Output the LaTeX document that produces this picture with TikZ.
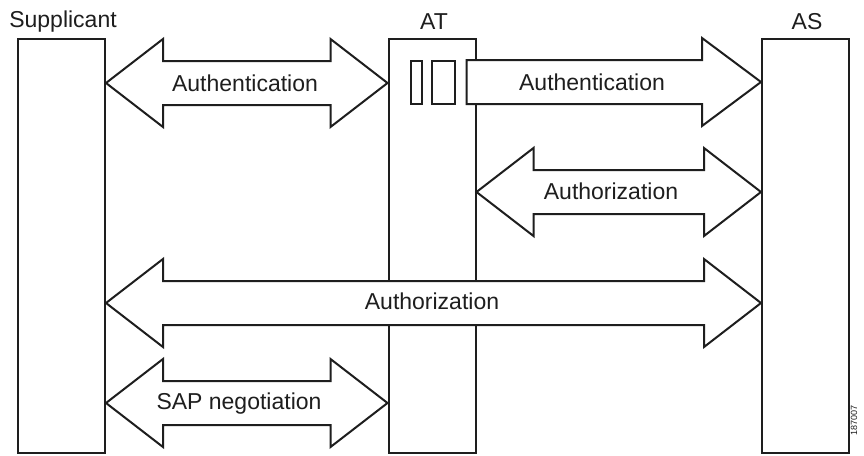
\documentclass[tikz,border=0pt]{standalone}
\usepackage{fontspec}
\setmainfont{Liberation Sans}
\usetikzlibrary{calc}
\definecolor{ink}{HTML}{1E1E1E}
\tikzset{
  ent/.style={draw=ink, line width=2pt, fill=white, inner sep=0pt, minimum width=87pt, minimum height=414pt},
  arr/.style={draw=ink, line width=2pt, fill=white, line join=miter},
  lbl/.style={inner sep=0pt, text=ink, font=\fontsize{23}{27}\selectfont},
  ttl/.style={inner sep=0pt, text=ink, font=\fontsize{23}{27}\selectfont}
}
\newcommand\dblarr[2]{%
  \draw[arr] (#1) -- ++(57,-44) -- ++(0,22) -- ($(#2)+(-57,-22)$) -- ++(0,-22) -- (#2)
    -- ++(-57,44) -- ++(0,-22) -- ($(#1)+(57,22)$) -- ++(0,22) -- cycle;}
\newcommand\sglarr[2]{%
  \draw[arr] ($(#1)+(0,-22)$) -- ($(#2)+(-59,-22)$) -- ++(0,-22) -- (#2)
    -- ++(-59,44) -- ++(0,-22) -- ($(#1)+(0,22)$) -- cycle;}
\begin{document}
\begin{tikzpicture}[x=1pt,y=-1pt]
\useasboundingbox[fill=white] (0,0) rectangle (864,455);
% entities
\node[ent] (sup) at (61.5,246) {};
\node[ent] (at)  at (432,246) {};
\node[ent] (as)  at (805.5,246) {};
\node[ttl] (tsup) at (63,22) {Supplicant};
\node[ttl] (tat)  at (434,22) {AT};
\node[ttl] (tas)  at (807,22) {AS};
% small buffers inside AT
\draw[arr] (411,61) rectangle (422,104);
\draw[arr] (432,61) rectangle (455,104);
% arrow end points
\coordinate (a1l) at (sup.east |- 0,83);
\coordinate (a1r) at (at.west |- 0,83);
\coordinate (a2l) at ($(at.east |- 0,82)+(-10,0)$);
\coordinate (a2r) at (as.west |- 0,82);
\coordinate (a3l) at (at.east |- 0,192);
\coordinate (a3r) at (as.west |- 0,192);
\coordinate (a4l) at (sup.east |- 0,303);
\coordinate (a4r) at (as.west |- 0,303);
\coordinate (a5l) at (sup.east |- 0,403);
\coordinate (a5r) at (at.west |- 0,403);
% arrows
\dblarr{a1l}{a1r}
\sglarr{a2l}{a2r}
\dblarr{a3l}{a3r}
\dblarr{a4l}{a4r}
\dblarr{a5l}{a5r}
% labels
\node[lbl] (l1) at (245,83) {Authentication};
\node[lbl] (l2) at (592,82) {Authentication};
\node[lbl] (l3) at (611,191) {Authorization};
\node[lbl] (l4) at (432,301) {Authorization};
\node[lbl] (l5) at (239,404) {SAP negotiation};
\node[inner sep=0pt, rotate=90, text=ink, font=\fontsize{9}{10}\selectfont] (id) at (854,420) {187007};
\end{tikzpicture}
\end{document}
